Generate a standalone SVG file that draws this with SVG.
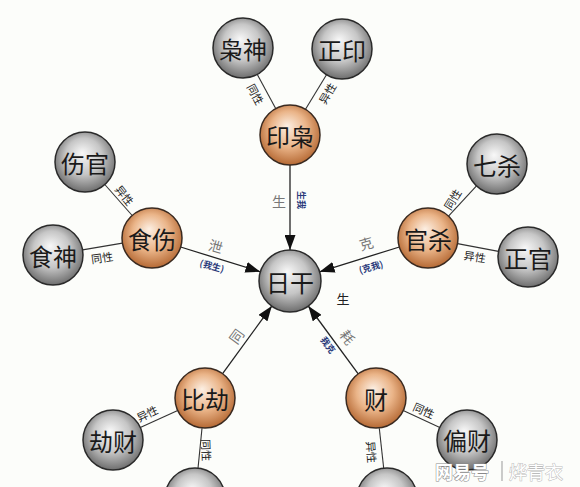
<svg xmlns="http://www.w3.org/2000/svg" width="580" height="487" viewBox="0 0 580 487">
<defs>
<radialGradient id="gGray" cx="0.5" cy="0.45" r="0.55" fx="0.45" fy="0.35">
<stop offset="0" stop-color="#f8f8f8"/>
<stop offset="0.55" stop-color="#c6c6c6"/>
<stop offset="1" stop-color="#6e6e6e"/>
</radialGradient>
<radialGradient id="gOrange" cx="0.5" cy="0.45" r="0.55" fx="0.45" fy="0.35">
<stop offset="0" stop-color="#fcefe3"/>
<stop offset="0.55" stop-color="#eab488"/>
<stop offset="1" stop-color="#b66a35"/>
</radialGradient>
<marker id="arr" markerWidth="15" markerHeight="11" refX="15" refY="5.5" orient="auto" markerUnits="userSpaceOnUse">
<path d="M0,0 L15,5.5 L0,11 z" fill="#111"/>
</marker>
<style>
.gray{fill:url(#gGray);stroke:#2a2a2a;stroke-width:1.5}
.orange{fill:url(#gOrange);stroke:#3a2a20;stroke-width:1.5}
.nt{font-family:"Noto Sans CJK SC","Noto Sans CJK JP",sans-serif;font-size:24px;fill:#1a1a1a;text-anchor:middle;dominant-baseline:central}
.edge{stroke:#333;stroke-width:1.1;fill:none}
.arrow{stroke:#222;stroke-width:1.3;fill:none;marker-end:url(#arr)}
.el{font-family:"Noto Sans CJK SC","Noto Sans CJK JP",sans-serif;font-size:11px;fill:#222;text-anchor:middle;dominant-baseline:central}
.al{font-family:"Noto Sans CJK SC","Noto Sans CJK JP",sans-serif;font-size:14px;fill:#777;text-anchor:middle;dominant-baseline:central}
.bl{font-family:"Noto Sans CJK SC","Noto Sans CJK JP",sans-serif;font-size:9px;fill:#2a3a7a;font-weight:bold;text-anchor:middle;dominant-baseline:central}
.wm{font-family:"Noto Sans CJK SC","Noto Sans CJK JP",sans-serif;font-size:18px;fill:#fff;stroke:#8a8a8a;stroke-width:1;paint-order:stroke;text-anchor:start;dominant-baseline:central}
</style>
</defs>
<rect width="580" height="487" fill="#fcfdfa"/>

<g id="connectors">
<line class="edge" x1="257.3" y1="74.4" x2="275.7" y2="108.6"/>
<line class="edge" x1="326.5" y1="74.7" x2="305.5" y2="109.3"/>
<line class="edge" x1="104.8" y1="184.5" x2="132.2" y2="215.5"/>
<line class="edge" x1="82.6" y1="249.9" x2="122.4" y2="243.1"/>
<line class="edge" x1="476.5" y1="185.9" x2="448.5" y2="216.1"/>
<line class="edge" x1="498.5" y1="251.4" x2="457.5" y2="243.6"/>
<line class="edge" x1="140.3" y1="427.5" x2="177.7" y2="410.5"/>
<line class="edge" x1="198" y1="468.2" x2="202" y2="428.2"/>
<line class="edge" x1="439.8" y1="427.4" x2="403.2" y2="410.6"/>
<line class="edge" x1="383.7" y1="468.2" x2="379.3" y2="428.2"/>

<line class="arrow" x1="290" y1="165" x2="290" y2="250"/>
<line class="arrow" x1="180.6" y1="247" x2="260.4" y2="271.8"/>
<line class="arrow" x1="399.4" y1="247" x2="319.6" y2="271.8"/>
<line class="arrow" x1="222.6" y1="373.7" x2="271.8" y2="306"/>
<line class="arrow" x1="358.2" y1="373.8" x2="308.3" y2="306"/>

<text class="el" transform="translate(256,94) rotate(62)">同性</text>
<text class="el" transform="translate(327,93) rotate(-59)">异性</text>
<text class="el" transform="translate(125,195) rotate(52)">异性</text>
<text class="el" transform="translate(102,257) rotate(-8)">同性</text>
<text class="el" transform="translate(452,199) rotate(-58)">同性</text>
<text class="el" transform="translate(475,256) rotate(9)">异性</text>
<text class="el" transform="translate(147,413) rotate(-25)">异性</text>
<text class="el" transform="translate(207,450) rotate(88)">同性</text>
<text class="el" transform="translate(424,410) rotate(24)">同性</text>
<text class="el" transform="translate(372,452) rotate(86)">异性</text>

<text class="al" x="279" y="201">生</text>
<text class="bl" transform="translate(301,200) rotate(90)">生我</text>
<text class="al" transform="translate(216,246) rotate(16)">泄</text>
<text class="bl" transform="translate(212,266) rotate(16)">(我生)</text>
<text class="al" transform="translate(366,243) rotate(-16)">克</text>
<text class="bl" transform="translate(371,267) rotate(-16)">(克我)</text>
<text class="al" transform="translate(236,336) rotate(-54)">同</text>
<text class="al" transform="translate(348,337) rotate(54)">耗</text>
<text class="bl" transform="translate(328,345) rotate(54)">我克</text>
<text class="al" x="343" y="298" style="fill:#222;font-size:13px">生</text>
</g>

<g id="rigan"><circle class="gray" cx="290" cy="281" r="31"/><text class="nt" x="290" y="281">日干</text></g>
<g id="yinxiao"><circle class="orange" cx="290" cy="135" r="30"/><text class="nt" x="290" y="135">印枭</text></g>
<g id="xiaoshen"><circle class="gray" cx="243" cy="48" r="30"/><text class="nt" x="243" y="48">枭神</text></g>
<g id="zhengyin"><circle class="gray" cx="342" cy="49" r="30"/><text class="nt" x="342" y="49">正印</text></g>
<g id="shishang"><circle class="orange" cx="152" cy="238" r="30"/><text class="nt" x="152" y="238">食伤</text></g>
<g id="shangguan"><circle class="gray" cx="85" cy="162" r="30"/><text class="nt" x="85" y="162">伤官</text></g>
<g id="shishen"><circle class="gray" cx="53" cy="255" r="30"/><text class="nt" x="53" y="255">食神</text></g>
<g id="guansha"><circle class="orange" cx="428" cy="238" r="30"/><text class="nt" x="428" y="238">官杀</text></g>
<g id="qisha"><circle class="gray" cx="497" cy="164" r="30"/><text class="nt" x="497" y="164">七杀</text></g>
<g id="zhengguan"><circle class="gray" cx="528" cy="257" r="30"/><text class="nt" x="528" y="257">正官</text></g>
<g id="bijie"><circle class="orange" cx="205" cy="398" r="30"/><text class="nt" x="205" y="398">比劫</text></g>
<g id="jiecai"><circle class="gray" cx="113" cy="440" r="30"/><text class="nt" x="113" y="440">劫财</text></g>
<g id="bottomleft"><circle class="gray" cx="195" cy="498" r="30"/></g>
<g id="cai"><circle class="orange" cx="376" cy="398" r="30"/><text class="nt" x="376" y="398">财</text></g>
<g id="piancai"><circle class="gray" cx="467" cy="440" r="30"/><text class="nt" x="467" y="439">偏财</text></g>
<g id="bottomright"><circle class="gray" cx="387" cy="498" r="30"/></g>

<g id="watermark">
<text class="wm" x="435" y="471" style="font-weight:bold">网易号</text>
<line x1="502" y1="461" x2="502" y2="481" stroke="#999" stroke-width="1"/>
<text class="wm" x="509" y="471" style="stroke:#bbb">烨青衣</text>
</g>
</svg>
